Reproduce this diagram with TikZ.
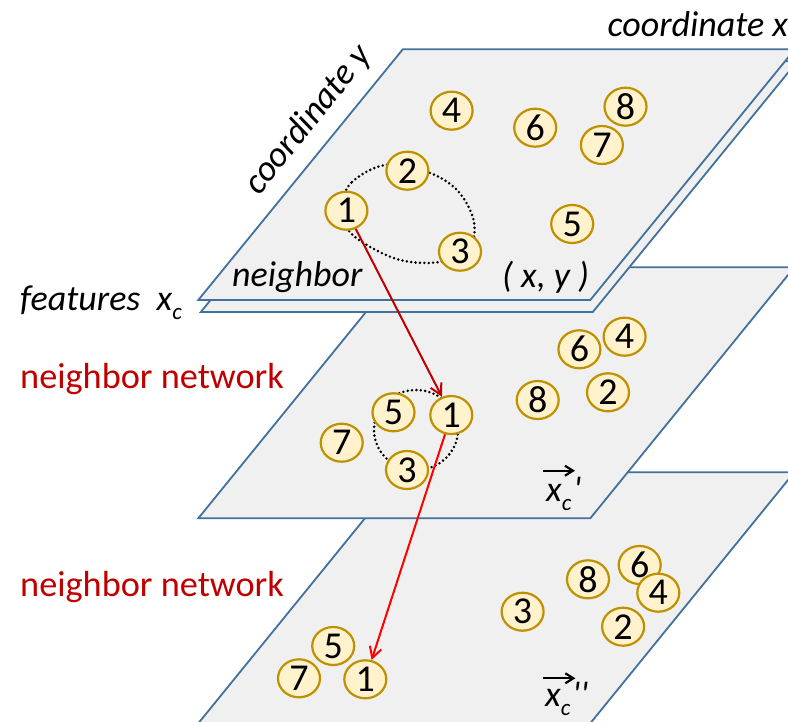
\documentclass[tikz,border=0pt]{standalone}
\usepackage{fontspec}
\newfontfamily\calfnt{Carlito}
\usetikzlibrary{shapes.geometric,arrows.meta}
\definecolor{planeedge}{HTML}{41719C}
\definecolor{planefill}{HTML}{F0F0F0}
\definecolor{ballfill}{HTML}{FFF2CC}
\definecolor{balledge}{HTML}{BF9000}
\definecolor{darkred}{HTML}{C00000}
\definecolor{brightred}{HTML}{FF0000}
\tikzset{
  plane/.style={draw=planeedge, fill=planefill, line width=1.8pt, line join=miter},
  ball/.style={ellipse, draw=balledge, fill=ballfill, line width=2.2pt, minimum width=42pt, minimum height=38pt, inner sep=0pt, font=\calfnt\fontsize{38}{38}\selectfont},
  lbl/.style={font=\calfnt\itshape\fontsize{36}{36}\selectfont, inner sep=0pt, anchor=base west},
  netlbl/.style={font=\calfnt\fontsize{36.3}{36.3}\selectfont, text=darkred, inner sep=0pt, anchor=base west},
  nbr/.style={line width=2.8pt, dash pattern=on 0pt off 4.4pt, line cap=round},
  flow/.style={line width=2pt, -{Straight Barb[length=11pt,width=12pt]}},
  vecarr/.style={line width=2.2pt, -{Straight Barb[length=8pt,width=10pt]}},
}
\newcommand{\subc}{\raisebox{-9pt}{\fontsize{23}{23}\selectfont c}}
\begin{document}
\begin{tikzpicture}[x=1pt,y=-1pt]
\useasboundingbox (0,0) rectangle (788,721);
\begin{scope}
\clip (0,0) rectangle (788,721);
% bottom plane
\draw[plane] (402.3,472.3) -- (794.3,472.3) -- (590.3,723.3) -- (198.3,723.3) -- cycle;
\node[ball] (b6) at (639.7,565) {6};
\node[ball] (b4) at (658.3,592.7) {4};
\node[ball] (b8) at (588,579.3) {8};
\node[ball] (b3) at (522.6,611.7) {3};
\node[ball] (b2) at (623.1,626.7) {2};
\node[ball] (b5) at (333.2,646) {5};
\node[ball] (b7) at (299,678.3) {7};
\node[ball] (b1) at (365.3,679.3) {1};
\node[lbl] (xcpp) at (545,706.5) {x\subc\kern2pt''};
\coordinate (vb1) at (542.7,678.3);
\coordinate (vb2) at (575.4,678.3);
\draw[vecarr] (vb1) -- (vb2);
% middle plane
\draw[plane] (402.3,267.3) -- (794.3,267.3) -- (590.3,518.3) -- (198.3,518.3) -- cycle;
\draw[nbr] (416,430) ellipse [x radius=42, y radius=40];
\node[ball] (m6) at (579.4,349.3) {6};
\node[ball] (m4) at (624.6,336.7) {4};
\node[ball] (m2) at (608,392.3) {2};
\node[ball] (m8) at (537.7,400) {8};
\node[ball] (m5) at (393.5,412.3) {5};
\node[ball] (m1) at (451.3,415) {1};
\node[ball] (m7) at (341.7,442.7) {7};
\node[ball] (m3) at (407,470) {3};
\node[lbl] (xcp) at (546,501.5) {x\subc\kern2pt'};
\coordinate (vm1) at (543.3,470.7);
\coordinate (vm2) at (575,470.7);
\draw[vecarr] (vm1) -- (vm2);
% top planes
\draw[plane] (405.3,61.3) -- (797.3,61.3) -- (592.8,312) -- (200.8,312) -- cycle;
\draw[plane] (402.8,49.3) -- (794.8,49.3) -- (590.3,300) -- (198.3,300) -- cycle;
\draw[nbr] plot[smooth cycle, tension=0.6] coordinates {(342,205) (352,182) (385,165) (425,171) (457,190) (474,222) (468,250) (440,262) (400,260) (362,242) (345,225)};
\node[ball] (t4) at (451.6,110.7) {4};
\node[ball] (t6) at (535.2,127.7) {6};
\node[ball] (t8) at (625.5,106.7) {8};
\node[ball] (t7) at (601.9,145) {7};
\node[ball] (t2) at (407.4,170.7) {2};
\node[ball] (t1) at (346.4,210.7) {1};
\node[ball] (t3) at (460,251.7) {3};
\node[ball] (t5) at (572.2,224) {5};
\node[lbl] (nb) at (232,286.7) {neighbor};
\node[lbl] (xy) at (502,287) {( x, y )};
% labels
\node[lbl] (cx) at (607.5,36.5) {coordinate x};
\node[lbl, anchor=base, rotate=51] (cy) at (316,126) {coordinate y};
\node[lbl] (feat) at (20,310) {features\ \ x\subc};
\node[netlbl] (nn1) at (20,388.3) {neighbor network};
\node[netlbl] (nn2) at (20,596.7) {neighbor network};
% flow arrows
\draw[flow, darkred] (t1) -- (m1);
\draw[flow, brightred] (m1) -- (b1);
\end{scope}
\end{tikzpicture}
\end{document}
